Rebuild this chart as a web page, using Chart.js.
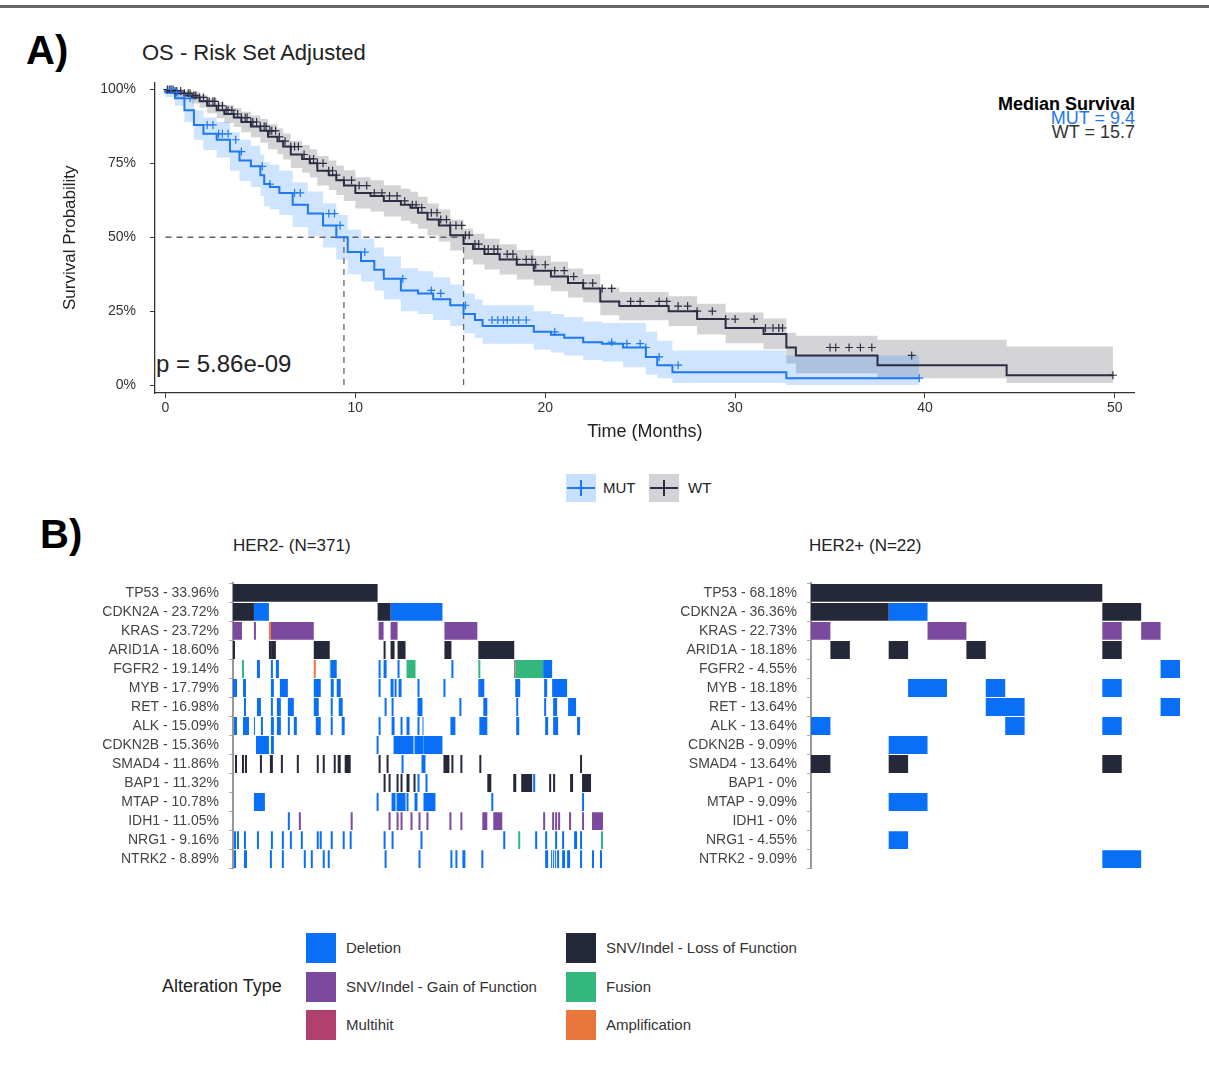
<!DOCTYPE html>
<html lang="en">
<head>
<meta charset="UTF-8">
<title>OS - Risk Set Adjusted</title>
<script src="https://cdn.jsdelivr.net/npm/chart.js"></script>
<style>
  body { margin: 0; width: 1209px; height: 1065px; position: relative; background: #fff; font-family: "Liberation Sans", Arial, sans-serif; overflow: hidden; }
  .abs { position: absolute; white-space: nowrap; }
  canvas { position: absolute; }
  .sw { position: absolute; width: 30px; height: 30px; }
  .lt { position: absolute; font-size: 15px; color: #333; }
</style>
</head>
<body>
<div class="abs" style="left:0;top:5px;width:1209px;height:3px;background:#666"></div>
<div class="abs" style="left:26px;top:28px;font-size:40px;font-weight:bold;">A)</div>
<div class="abs" style="left:142px;top:40px;font-size:22px;color:#222;">OS - Risk Set Adjusted</div>
<div class="abs" style="right:74px;top:97px;font-size:18px;line-height:14px;text-align:right;">
  <b>Median Survival</b><br><span style="color:#1f78f0">MUT = 9.4</span><br><span style="color:#333">WT = 15.7</span>
</div>
<div class="abs" style="left:156px;top:350px;font-size:24px;color:#222;">p = 5.86e-09</div>

<canvas id="km" style="left:60px;top:60px;" width="1080" height="383"></canvas>

<div class="abs" style="left:566px;top:474px;width:30px;height:28px;background:rgba(30,130,255,0.25)"></div>
<div class="abs" style="left:567px;top:487px;width:28px;height:2px;background:#1f78f0"></div>
<div class="abs" style="left:580px;top:480px;width:2px;height:16px;background:#1f78f0"></div>
<div class="abs" style="left:603px;top:479px;font-size:15px;color:#222">MUT</div>
<div class="abs" style="left:649px;top:474px;width:30px;height:28px;background:rgba(130,130,140,0.35)"></div>
<div class="abs" style="left:650px;top:487px;width:28px;height:2px;background:#2b2d42"></div>
<div class="abs" style="left:663px;top:480px;width:2px;height:16px;background:#2b2d42"></div>
<div class="abs" style="left:688px;top:479px;font-size:15px;color:#222">WT</div>

<div class="abs" style="left:40px;top:512px;font-size:40px;font-weight:bold;">B)</div>
<div class="abs" style="left:233px;top:536px;font-size:17px;color:#222;">HER2- (N=371)</div>
<div class="abs" style="left:809px;top:536px;font-size:17px;color:#222;">HER2+ (N=22)</div>

<canvas id="left" style="left:73px;top:565px;" width="530" height="322"></canvas>
<canvas id="right" style="left:651px;top:565px;" width="529" height="322"></canvas>

<div class="abs" style="left:162px;top:976px;font-size:18px;color:#222;">Alteration Type</div>
<div class="sw" style="left:306px;top:933px;background:#0a6ff7"></div><div class="lt" style="left:346px;top:939px">Deletion</div>
<div class="sw" style="left:306px;top:972px;background:#7b4a9f"></div><div class="lt" style="left:346px;top:978px">SNV/Indel - Gain of Function</div>
<div class="sw" style="left:306px;top:1010px;background:#b0416f"></div><div class="lt" style="left:346px;top:1016px">Multihit</div>
<div class="sw" style="left:566px;top:933px;background:#252838"></div><div class="lt" style="left:606px;top:939px">SNV/Indel - Loss of Function</div>
<div class="sw" style="left:566px;top:972px;background:#33b77c"></div><div class="lt" style="left:606px;top:978px">Fusion</div>
<div class="sw" style="left:566px;top:1010px;background:#e9773c"></div><div class="lt" style="left:606px;top:1016px">Amplification</div>

<script>
// ---- Panel A: Kaplan-Meier data (months, survival %) ----
const mutT = [0,0.5,1,1.5,2,2.7,3.4,3.9,4.5,5,5.2,5.5,6,6.7,7.5,8.3,9,9.6,10.3,11,11.5,12.4,13.3,14.1,15,15.7,16.3,16.7,19.4,20.3,21,22,23,24.1,25.3,25.9,26.7,32.7,35.1,39.7];
const mutS = [100,99,97,93,88,85,83,79,76,74,71,68,67,65,61,58,54,50,45,42,39,36,32,31,29,27,24,22,20,18,17,16,14.5,14,12.7,9.5,6.7,4.3,2.3,2.3];
const mutU = [100,100,99.5,97,93,90.5,89,85.5,83,81,78,75.5,74.5,72.5,68.5,65.5,61.5,57.5,52.5,49.5,46.5,43.5,39.5,38.5,36.5,34,31,29,27,25,24,23,21.5,21,21,18,15,11.7,10,10];
const mutL = [100,97.5,94.5,89,83,79.5,77,72.5,69,67,64,60.5,59.5,57.5,53.5,50.5,46.5,42.5,37.5,35,32,29,25,24,22,20,17.5,16,14,12,11,10,8.5,8,6,3.5,2.3,0.7,0,0];
const mutCens = [0.3,0.6,1,1.3,2.2,2.5,2.8,3,3.3,3.7,4,5.1,5.5,6.8,7.1,8.6,8.9,9.2,10.5,12.5,14,14.5,15.8,17.2,17.5,17.8,18,18.3,18.6,19,20.5,23.5,24.3,25,25.3,26,27,39.7];

const wtT = [0,0.5,1,1.4,1.8,2.2,2.7,3.1,3.6,4,4.5,5,5.4,5.9,6.2,6.6,7.2,7.6,8,8.6,9,9.4,10,10.8,11.5,12.4,12.9,13.3,13.8,14.4,15,15.7,16.2,16.8,17.6,18.5,19.4,20.3,21.2,22,22.9,23.9,26.5,28,29.5,31.5,32.7,33.2,37.5,44.3,47.6,49.9];
const wtS = [100,99.5,98.7,98,97.3,96,94.5,93,91.7,90.5,89,87.5,86,84,82.5,80.7,78,76.5,75,72.5,71,69.3,67.5,65,64,62.3,61,60,58.3,56,54,50.7,47.7,46,44.3,42.5,40.7,38.7,36.7,34.5,32.7,28.3,26.7,25,22.3,19.3,17.3,12.7,10,6.7,3.3,3.3];
const wtU = [100,100,100,99.6,99.3,98.2,97,95.7,94.7,93.7,92.5,91.2,90,88.2,86.8,85.1,82.6,81.2,79.8,77.5,76,74.3,72.7,70.3,69.3,67.6,66.4,65.4,63.7,61.4,59.4,55.9,52.9,51.2,49.5,47.6,45.7,43.7,41.7,39.4,37.5,33,31.5,30,27.5,24.5,22.5,17.7,16.7,15.3,13,13];
const wtL = [100,99,97.4,96.4,95.3,93.8,92,90.3,88.7,87.3,85.5,83.8,82,79.8,78.2,76.3,73.4,71.8,70.2,67.5,66,64.3,62.3,59.7,58.7,57,55.6,54.6,52.9,50.6,48.6,45.5,42.5,40.8,39.1,37.4,35.7,33.7,31.7,29.6,27.9,23.6,21.9,20,17.1,14.1,12.1,7.3,4,2.3,0.7,0.7];
const wtCens = [0.1,0.2,0.3,0.4,0.5,0.6,0.8,1,1.2,1.3,1.5,1.6,1.8,2,2.2,2.3,2.5,2.6,2.8,3,3.2,3.3,3.5,3.6,3.8,4,4.2,4.3,4.5,4.6,4.8,5,5.2,5.3,5.5,5.6,5.8,6,6.3,6.6,6.8,7,7.3,7.6,7.8,8,8.3,8.6,8.8,9,9.4,9.8,10.2,10.6,11,11.4,11.8,12.2,12.6,13,13.2,13.5,14,14.3,14.5,14.8,15,15.3,15.6,15.8,16,16.3,16.5,16.8,17,17.3,17.5,18,18.3,18.5,19,19.3,19.5,20,20.5,21,21.5,22,22.5,23,23.5,24.5,25,26,26.4,27,27.5,28,28.8,29.5,30,31,31.6,32,32.3,32.5,35,35.3,36,36.6,37.2,39.3,49.9];

const medians = [9.4, 15.7];
const xTicks = [0,10,20,30,40,50];
const yTicks = [0,25,50,75,100];

// ---- Panel B: oncoprint data, [gene, firstSample, endSample] ----
const genes = ["TP53","CDKN2A","KRAS","ARID1A","FGFR2","MYB","RET","ALK","CDKN2B","SMAD4","BAP1","MTAP","IDH1","NRG1","NTRK2"];
const pctNeg = ["33.96%","23.72%","23.72%","18.60%","19.14%","17.79%","16.98%","15.09%","15.36%","11.86%","11.32%","10.78%","11.05%","9.16%","8.89%"];
const pctPos = ["68.18%","36.36%","22.73%","18.18%","4.55%","18.18%","13.64%","13.64%","9.09%","13.64%","0%","9.09%","0%","4.55%","9.09%"];
const nNeg = 371;
const nPosShown = 19;

const negLoF = [["TP53",0,145],["CDKN2A",0,21],["CDKN2A",145,158],
  ["ARID1A",0,2],["ARID1A",36,39],["ARID1A",39,43],["ARID1A",81,97],["ARID1A",151,153],["ARID1A",158,162],["ARID1A",165,173],["ARID1A",212,219],["ARID1A",246,282],
  ["SMAD4",2,4],["SMAD4",9,11],["SMAD4",12,14],["SMAD4",27,29],["SMAD4",37,40],["SMAD4",48,50],["SMAD4",64,66],["SMAD4",84,86],["SMAD4",90,92],["SMAD4",101,103],["SMAD4",105,108],["SMAD4",112,118],["SMAD4",146,148],["SMAD4",154,156],["SMAD4",211,217],["SMAD4",219,221],["SMAD4",228,230],["SMAD4",247,249],["SMAD4",348,350],
  ["BAP1",151,153],["BAP1",156,158],["BAP1",164,166],["BAP1",168,170],["BAP1",174,177],["BAP1",181,183],["BAP1",255,259],["BAP1",281,284],["BAP1",289,300],["BAP1",317,319],["BAP1",321,323],["BAP1",338,341],["BAP1",350,359]];
const negDel = [["CDKN2A",21,36],["CDKN2A",158,210],
  ["FGFR2",24,27],["FGFR2",38,40],["FGFR2",43,46],["FGFR2",98,104],["FGFR2",146,148],["FGFR2",151,154],["FGFR2",165,167],["FGFR2",219,221],["FGFR2",311,320],
  ["MYB",0,4],["MYB",10,13],["MYB",38,41],["MYB",47,55],["MYB",81,88],["MYB",98,101],["MYB",104,108],["MYB",146,148],["MYB",158,161],["MYB",162,164],["MYB",166,169],["MYB",185,187],["MYB",211,213],["MYB",246,252],["MYB",283,288],["MYB",312,315],["MYB",320,335],
  ["RET",11,13],["RET",24,28],["RET",38,40],["RET",44,48],["RET",55,61],["RET",81,86],["RET",98,100],["RET",106,110],["RET",152,154],["RET",159,161],["RET",185,190],["RET",227,229],["RET",251,255],["RET",284,286],["RET",312,314],["RET",321,325],["RET",336,344],
  ["ALK",1,4],["ALK",10,16],["ALK",21,22],["ALK",28,30],["ALK",38,41],["ALK",44,48],["ALK",55,57],["ALK",61,64],["ALK",83,88],["ALK",98,100],["ALK",109,112],["ALK",146,148],["ALK",159,162],["ALK",168,170],["ALK",174,177],["ALK",185,187],["ALK",190,191],["ALK",218,223],["ALK",247,255],["ALK",284,287],["ALK",313,316],["ALK",321,326],["ALK",345,348],
  ["CDKN2B",23,36],["CDKN2B",38,41],["CDKN2B",144,146],["CDKN2B",161,181],["CDKN2B",182,191],["CDKN2B",191,210],
  ["SMAD4",169,171],["SMAD4",189,193],["BAP1",185,187],["BAP1",193,195],["BAP1",301,303],
  ["MTAP",21,32],["MTAP",144,146],["MTAP",159,163],["MTAP",164,173],["MTAP",174,176],["MTAP",182,185],["MTAP",191,203],["MTAP",259,261],["MTAP",350,352],
  ["IDH1",55,57],
  ["NRG1",1,3],["NRG1",4,6],["NRG1",11,13],["NRG1",24,26],["NRG1",38,40],["NRG1",49,51],["NRG1",57,59],["NRG1",68,70],["NRG1",84,86],["NRG1",87,89],["NRG1",98,100],["NRG1",110,112],["NRG1",117,119],["NRG1",151,153],["NRG1",159,161],["NRG1",188,190],["NRG1",271,273],["NRG1",303,305],["NRG1",313,315],["NRG1",323,325],["NRG1",330,332],["NRG1",342,345],["NRG1",348,350],
  ["NTRK2",1,3],["NTRK2",11,14],["NTRK2",37,39],["NTRK2",49,51],["NTRK2",71,73],["NTRK2",78,80],["NTRK2",90,92],["NTRK2",95,97],["NTRK2",152,154],["NTRK2",186,188],["NTRK2",218,220],["NTRK2",223,225],["NTRK2",230,233],["NTRK2",249,251],["NTRK2",313,316],["NTRK2",319,320],["NTRK2",321,322],["NTRK2",323,324],["NTRK2",325,327],["NTRK2",330,333],["NTRK2",335,338],["NTRK2",348,350],["NTRK2",360,362],["NTRK2",368,370]];
const negGoF = [["KRAS",0,9],["KRAS",21,23],["KRAS",38,81],["KRAS",146,151],["KRAS",158,165],["KRAS",212,245],
  ["IDH1",66,68],["IDH1",118,120],["IDH1",156,158],["IDH1",164,166],["IDH1",168,170],["IDH1",178,180],["IDH1",186,188],["IDH1",194,196],["IDH1",217,219],["IDH1",228,230],["IDH1",250,255],["IDH1",261,270],["IDH1",311,313],["IDH1",320,322],["IDH1",323,325],["IDH1",326,328],["IDH1",337,339],["IDH1",350,352],["IDH1",360,371]];
const negFusion = [["FGFR2",9,11],["FGFR2",97,98],["FGFR2",174,183],["FGFR2",246,248],["FGFR2",283,311],["NRG1",286,288],["NRG1",369,371]];
const negAmp = [["KRAS",36,38],["FGFR2",81,83]];
const negMulti = [["FGFR2",282,283]];

const posLoF = [["TP53",0,15],["CDKN2A",0,4],["CDKN2A",15,17],["ARID1A",1,2],["ARID1A",4,5],["ARID1A",8,9],["ARID1A",15,16],["SMAD4",0,1],["SMAD4",4,5],["SMAD4",15,16]];
const posDel = [["CDKN2A",4,6],["FGFR2",18,19],["MYB",5,7],["MYB",9,10],["MYB",15,16],["RET",9,11],["RET",18,19],["ALK",0,1],["ALK",10,11],["ALK",15,16],["CDKN2B",4,6],["MTAP",4,6],["NRG1",4,5],["NTRK2",15,17]];
const posGoF = [["KRAS",0,1],["KRAS",6,8],["KRAS",15,16],["KRAS",17,18]];

const colDel = "#0a6ff7", colLoF = "#252838", colGoF = "#7b4a9f", colFus = "#33b77c", colAmp = "#e9773c", colMulti = "#b0416f";

Chart.defaults.font.family = '"Liberation Sans", Arial, sans-serif';
Chart.defaults.animation = false;
Chart.defaults.responsive = false;

const pts = (t, s) => t.map((x, i) => ({ x: x, y: s[i] }));
const stepAt = (t, s, x) => { let v = s[0]; for (let i = 0; i < t.length; i++) if (t[i] <= x) v = s[i]; return v; };
const cens = (c, t, s) => c.map(x => ({ x: x, y: stepAt(t, s, x) }));

const blue = "#1f78f0", dark = "#2b2d42";
new Chart(document.getElementById("km"), {
  type: "line",
  data: {
    datasets: [
      { data: cens(mutCens, mutT, mutS), showLine: false, pointStyle: "cross", pointRadius: 4, borderColor: blue, borderWidth: 1.2, order: 0 },
      { data: cens(wtCens, wtT, wtS), showLine: false, pointStyle: "cross", pointRadius: 4, borderColor: dark, borderWidth: 1.2, order: 0 },
      { data: pts(mutT, mutS), stepped: "after", borderColor: blue, borderWidth: 2, pointRadius: 0, order: 1 },
      { data: pts(wtT, wtS), stepped: "after", borderColor: dark, borderWidth: 2, pointRadius: 0, order: 1 },
      { data: [{x:0,y:50},{x:medians[1],y:50}], borderColor: "#666", borderDash: [6,5], borderWidth: 1.3, pointRadius: 0, order: 2 },
      { data: [{x:medians[0],y:0},{x:medians[0],y:50}], borderColor: "#666", borderDash: [6,5], borderWidth: 1.3, pointRadius: 0, order: 2 },
      { data: [{x:medians[1],y:0},{x:medians[1],y:50}], borderColor: "#666", borderDash: [6,5], borderWidth: 1.3, pointRadius: 0, order: 2 },
      { data: pts(mutT, mutU), stepped: "after", borderWidth: 0, pointRadius: 0, order: 5 },
      { data: pts(mutT, mutL), stepped: "after", borderWidth: 0, pointRadius: 0, fill: "-1", backgroundColor: "rgba(30,130,255,0.22)", order: 5 },
      { data: pts(wtT, wtU), stepped: "after", borderWidth: 0, pointRadius: 0, order: 6 },
      { data: pts(wtT, wtL), stepped: "after", borderWidth: 0, pointRadius: 0, fill: "-1", backgroundColor: "rgba(120,120,132,0.32)", order: 6 }
    ]
  },
  options: {
    layout: { padding: { top: 18, right: 5 } },
    plugins: { legend: { display: false }, tooltip: { enabled: false } },
    scales: {
      x: {
        type: "linear", min: -0.55, max: 51.05,
        afterBuildTicks: s => { s.ticks = xTicks.map(v => ({ value: v })); },
        afterFit: s => { s.height = 50; },
        grid: { drawOnChartArea: false, tickLength: 5, color: "#333" },
        border: { color: "#333", width: 1.3 },
        ticks: { color: "#333", font: { size: 14 }, padding: 2 },
        title: { display: true, text: "Time (Months)", color: "#222", font: { size: 18 }, padding: 0 }
      },
      y: {
        type: "linear", min: -2.7, max: 102.4,
        afterBuildTicks: s => { s.ticks = yTicks.map(v => ({ value: v })); },
        afterFit: s => { s.width = 95; },
        grid: { drawOnChartArea: false, tickLength: 5, color: "#333" },
        border: { color: "#333", width: 1.3 },
        ticks: { color: "#333", font: { size: 14 }, padding: 14, callback: v => v + "%" },
        title: { display: true, text: "Survival Probability", color: "#222", font: { size: 17 }, padding: 0 }
      }
    }
  }
});

function onco(id, pct, xmax, sets) {
  new Chart(document.getElementById(id), {
    type: "bar",
    data: {
      labels: genes,
      datasets: sets.map(([rows, col]) => ({
        data: rows.map(r => ({ y: r[0], x: [r[1], r[2]] })),
        backgroundColor: col, grouped: false, barPercentage: 1, categoryPercentage: 0.94
      }))
    },
    options: {
      indexAxis: "y",
      layout: { padding: 0 },
      plugins: { legend: { display: false }, tooltip: { enabled: false } },
      scales: {
        x: { type: "linear", min: 0, max: xmax, display: false },
        y: {
          afterFit: s => { s.width = 160; },
          grid: { drawOnChartArea: false, tickLength: 4, color: "#aaa" },
          border: { color: "#999", width: 2 },
          ticks: { color: "#444", font: { size: 14 }, padding: 10, autoSkip: false,
                   callback: (v, i) => genes[i] + " - " + pct[i] }
        }
      }
    }
  });
}
onco("left", pctNeg, nNeg, [[negLoF, colLoF], [negDel, colDel], [negGoF, colGoF], [negFusion, colFus], [negAmp, colAmp], [negMulti, colMulti]]);
onco("right", pctPos, nPosShown, [[posLoF, colLoF], [posDel, colDel], [posGoF, colGoF]]);
</script>
</body>
</html>
